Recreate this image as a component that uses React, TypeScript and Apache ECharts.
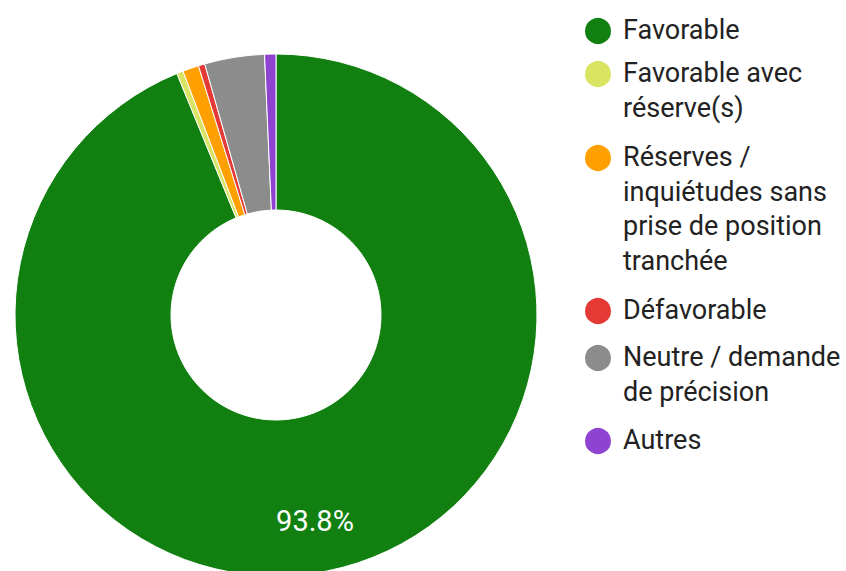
import React, { useEffect, useRef } from "react";
import * as echarts from "echarts";

const categories = [
  "Favorable",
  "Favorable avec réserve(s)",
  "Réserves / inquiétudes sans prise de position tranchée",
  "Défavorable",
  "Neutre / demande de précision",
  "Autres",
];
const legendLines = [
  ["Favorable"],
  ["Favorable avec", "réserve(s)"],
  ["Réserves /", "inquiétudes sans", "prise de position", "tranchée"],
  ["Défavorable"],
  ["Neutre / demande", "de précision"],
  ["Autres"],
];
const values = [93.8, 0.4, 1.0, 0.4, 3.7, 0.7];
const colors = ["#118011", "#d9e463", "#ffa000", "#e53935", "#8c8c8c", "#8e44d0"];

const legendRowCenters = [30, 73, 157, 310, 357, 440];
const LINE_H = 34.5;
const ICON = 28;

export default function App() {
  const ref = useRef<HTMLDivElement>(null);
  useEffect(() => {
    if (!ref.current) return;
    const chart = echarts.init(ref.current, null, { renderer: "svg" });
    const iconLegends = categories.map((name, i) => ({
      orient: "vertical",
      left: 597 - ICON / 2,
      top: legendRowCenters[i] - ICON / 2,
      padding: 0,
      icon: "circle",
      itemWidth: ICON,
      itemHeight: ICON,
      selectedMode: false,
      data: [name],
      formatter: () => "",
      textStyle: { fontSize: 1 },
    }));
    const textLegends = categories.map((name, i) => ({
      orient: "vertical",
      left: 617,
      top: legendRowCenters[i] - LINE_H / 2,
      padding: 0,
      icon: "rect",
      itemWidth: 0,
      itemHeight: 0,
      itemStyle: { opacity: 0 },
      selectedMode: false,
      data: [name],
      formatter: () => legendLines[i].join("\n"),
      textStyle: {
        fontFamily: "Roboto",
        fontSize: 27,
        color: "#222",
        lineHeight: LINE_H,
      },
    }));
    chart.setOption({
      animation: false,
      color: colors,
      legend: [...iconLegends, ...textLegends],
      series: [
        {
          type: "pie",
          center: [276, 315],
          radius: [105, 261],
          startAngle: 90,
          percentPrecision: 1,
          avoidLabelOverlap: false,
          emphasis: { disabled: true },
          itemStyle: { borderColor: "#fff", borderWidth: 1 },
          label: { show: false },
          labelLine: { show: false },
          labelLayout: { dx: 3, dy: 24 },
          data: categories.map((name, i) => ({
            name,
            value: values[i],
            label:
              i === 0
                ? {
                    show: true,
                    position: "inside",
                    formatter: "{d}%",
                    color: "#fff",
                    fontFamily: "Roboto",
                    fontSize: 29,
                  }
                : { show: false },
          })),
        },
      ],
    });
    return () => chart.dispose();
  }, []);
  return (
    <div
      ref={ref}
      style={{ position: "fixed", left: 0, top: 0, width: 846, height: 571, background: "#fff" }}
    />
  );
}
